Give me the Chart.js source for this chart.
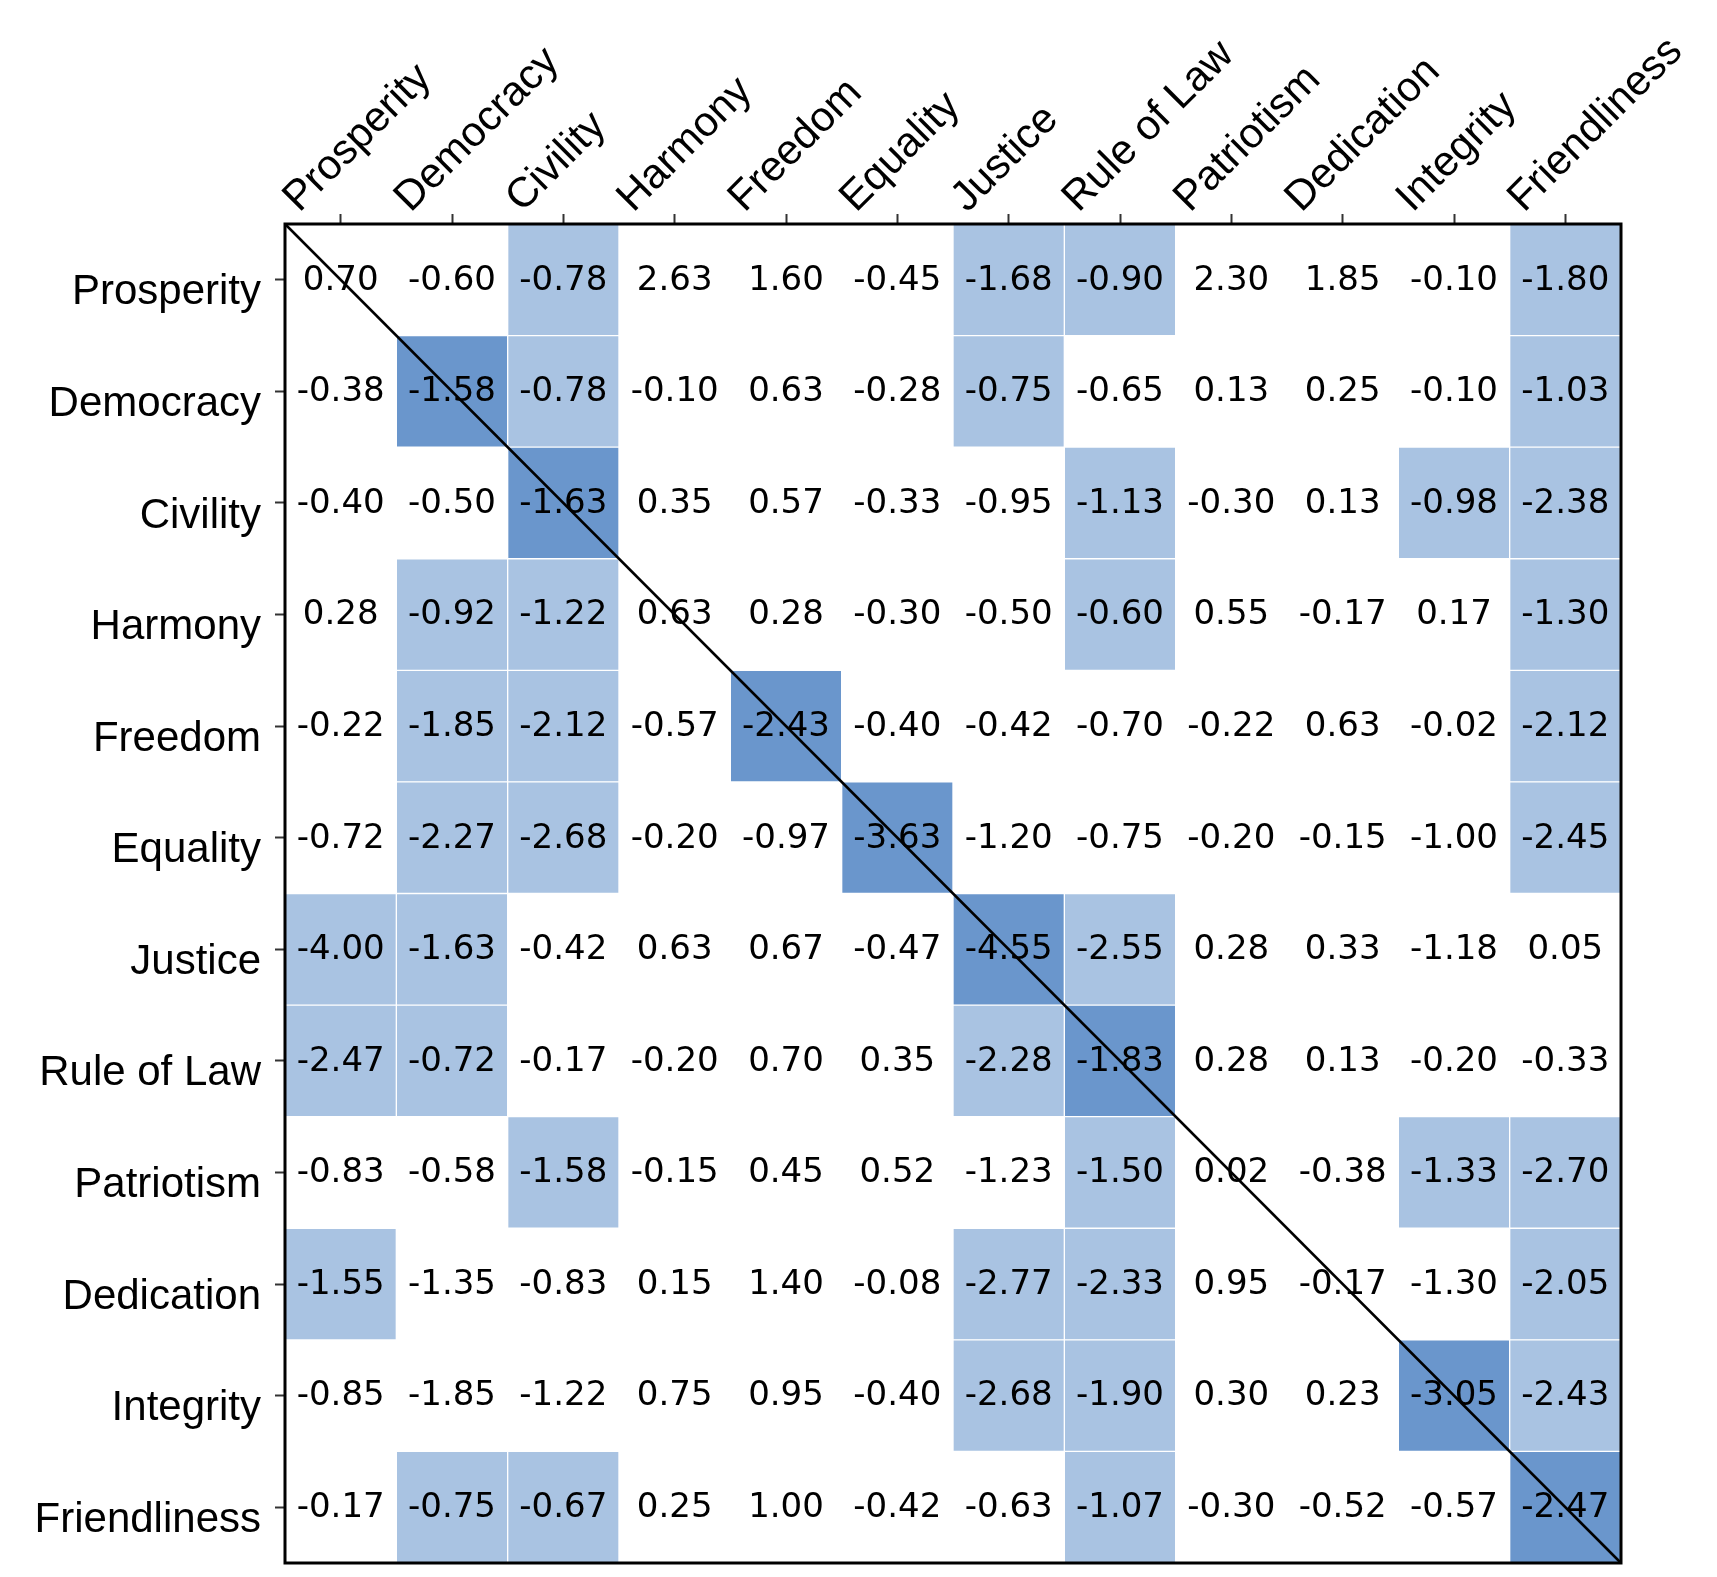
<!DOCTYPE html>
<html lang="en">
<head>
    <meta charset="UTF-8">
    <title>Value matrix</title>
    <style>
        body {
            margin: 0;
            padding: 0;
            background-color: #fff;
        }

        .chart-container {
            width: 1717px;
            height: 1577px;
            position: relative;
        }
    </style>
</head>
<body>
    <div class="chart-container">
        <canvas id="matrixChart" width="1717" height="1577"></canvas>
    </div>

    <script src="https://cdn.jsdelivr.net/npm/chart.js"></script>
    <script>
        const labels = ['Prosperity', 'Democracy', 'Civility', 'Harmony', 'Freedom', 'Equality',
            'Justice', 'Rule of Law', 'Patriotism', 'Dedication', 'Integrity', 'Friendliness'];

        // one row per label, columns in the same order
        const values = [
            [0.70, -0.60, -0.78, 2.63, 1.60, -0.45, -1.68, -0.90, 2.30, 1.85, -0.10, -1.80],
            [-0.38, -1.58, -0.78, -0.10, 0.63, -0.28, -0.75, -0.65, 0.13, 0.25, -0.10, -1.03],
            [-0.40, -0.50, -1.63, 0.35, 0.57, -0.33, -0.95, -1.13, -0.30, 0.13, -0.98, -2.38],
            [0.28, -0.92, -1.22, 0.63, 0.28, -0.30, -0.50, -0.60, 0.55, -0.17, 0.17, -1.30],
            [-0.22, -1.85, -2.12, -0.57, -2.43, -0.40, -0.42, -0.70, -0.22, 0.63, -0.02, -2.12],
            [-0.72, -2.27, -2.68, -0.20, -0.97, -3.63, -1.20, -0.75, -0.20, -0.15, -1.00, -2.45],
            [-4.00, -1.63, -0.42, 0.63, 0.67, -0.47, -4.55, -2.55, 0.28, 0.33, -1.18, 0.05],
            [-2.47, -0.72, -0.17, -0.20, 0.70, 0.35, -2.28, -1.83, 0.28, 0.13, -0.20, -0.33],
            [-0.83, -0.58, -1.58, -0.15, 0.45, 0.52, -1.23, -1.50, 0.02, -0.38, -1.33, -2.70],
            [-1.55, -1.35, -0.83, 0.15, 1.40, -0.08, -2.77, -2.33, 0.95, -0.17, -1.30, -2.05],
            [-0.85, -1.85, -1.22, 0.75, 0.95, -0.40, -2.68, -1.90, 0.30, 0.23, -3.05, -2.43],
            [-0.17, -0.75, -0.67, 0.25, 1.00, -0.42, -0.63, -1.07, -0.30, -0.52, -0.57, -2.47]
        ];

        // 0 = plain, 1 = highlighted, 2 = highlighted on the diagonal
        const marks = [
            [0, 0, 1, 0, 0, 0, 1, 1, 0, 0, 0, 1],
            [0, 2, 1, 0, 0, 0, 1, 0, 0, 0, 0, 1],
            [0, 0, 2, 0, 0, 0, 0, 1, 0, 0, 1, 1],
            [0, 1, 1, 0, 0, 0, 0, 1, 0, 0, 0, 1],
            [0, 1, 1, 0, 2, 0, 0, 0, 0, 0, 0, 1],
            [0, 1, 1, 0, 0, 2, 0, 0, 0, 0, 0, 1],
            [1, 1, 0, 0, 0, 0, 2, 1, 0, 0, 0, 0],
            [1, 1, 0, 0, 0, 0, 1, 2, 0, 0, 0, 0],
            [0, 0, 1, 0, 0, 0, 0, 1, 0, 0, 1, 1],
            [1, 0, 0, 0, 0, 0, 1, 1, 0, 0, 0, 1],
            [0, 0, 0, 0, 0, 0, 1, 1, 0, 0, 2, 1],
            [0, 1, 1, 0, 0, 0, 0, 1, 0, 0, 0, 2]
        ];

        const fillColors = ['rgba(255,255,255,0)', '#a9c3e2', '#6a96cc'];

        Chart.defaults.font.family = '"Liberation Sans", Arial, sans-serif';
        Chart.defaults.color = '#000';

        // one floating bar per cell, one dataset per column
        const datasets = labels.map((name, c) => ({
            label: name,
            data: labels.map(() => [c, c + 1]),
            backgroundColor: marks.map(row => fillColors[row[c]]),
            borderColor: '#fff',
            borderWidth: marks.map(row => row[c] ? 1 : 0),
            borderSkipped: false,
            grouped: false,
            barPercentage: 1,
            categoryPercentage: 1
        }));

        const matrixDecor = {
            id: 'matrixDecor',
            afterDatasetsDraw(chart) {
                const ctx = chart.ctx;
                ctx.save();
                ctx.font = '34px "DejaVu Sans"';
                ctx.fillStyle = '#000';
                ctx.textAlign = 'center';
                ctx.textBaseline = 'middle';
                chart.data.datasets.forEach((ds, c) => {
                    chart.getDatasetMeta(c).data.forEach((bar, r) => {
                        const p = bar.getCenterPoint();
                        ctx.fillText(values[r][c].toFixed(2), p.x, p.y + 1);
                    });
                });
                ctx.restore();
            },
            afterDraw(chart) {
                const { ctx, chartArea: a, scales: { x } } = chart;
                ctx.save();
                ctx.strokeStyle = '#000';
                ctx.lineWidth = 2.5;
                ctx.beginPath();
                ctx.moveTo(x.getPixelForValue(0), a.top);
                ctx.lineTo(x.getPixelForValue(labels.length), a.bottom);
                ctx.stroke();
                ctx.lineWidth = 3;
                ctx.strokeRect(a.left, a.top, a.right - a.left, a.bottom - a.top);
                ctx.restore();
            }
        };

        const ctx = document.getElementById('matrixChart').getContext('2d');
        const matrixChart = new Chart(ctx, {
            type: 'bar',
            data: {
                labels: labels,
                datasets: datasets
            },
            options: {
                indexAxis: 'y',
                responsive: false,
                animation: false,
                layout: {
                    padding: { left: 0, top: 0, right: 96, bottom: 14 }
                },
                plugins: {
                    legend: { display: false },
                    tooltip: { enabled: false }
                },
                scales: {
                    x: {
                        type: 'linear',
                        position: 'top',
                        min: 0,
                        max: labels.length,
                        afterBuildTicks: axis => {
                            axis.ticks = labels.map((_, i) => ({ value: i + 0.5 }));
                        },
                        afterFit: axis => {
                            axis.height = 224;
                            axis.paddingLeft = 0;
                            axis.paddingRight = 0;
                        },
                        border: { display: false },
                        grid: {
                            drawOnChartArea: false,
                            drawTicks: true,
                            tickLength: 10,
                            tickWidth: 2,
                            tickColor: '#333'
                        },
                        ticks: {
                            autoSkip: false,
                            minRotation: 45,
                            maxRotation: 45,
                            padding: -9,
                            labelOffset: -14,
                            font: { size: 42 },
                            callback: v => labels[Math.floor(v)]
                        }
                    },
                    y: {
                        type: 'category',
                        position: 'left',
                        offset: true,
                        afterFit: axis => {
                            axis.width = 285;
                            axis.paddingTop = 0;
                            axis.paddingBottom = 0;
                        },
                        border: { display: false },
                        grid: {
                            offset: false,
                            drawOnChartArea: false,
                            drawTicks: true,
                            tickLength: 10,
                            tickWidth: 2,
                            tickColor: '#333'
                        },
                        ticks: {
                            autoSkip: false,
                            padding: 14,
                            labelOffset: 13,
                            font: { size: 42 }
                        }
                    }
                }
            },
            plugins: [matrixDecor]
        });
    </script>
</body>
</html>
